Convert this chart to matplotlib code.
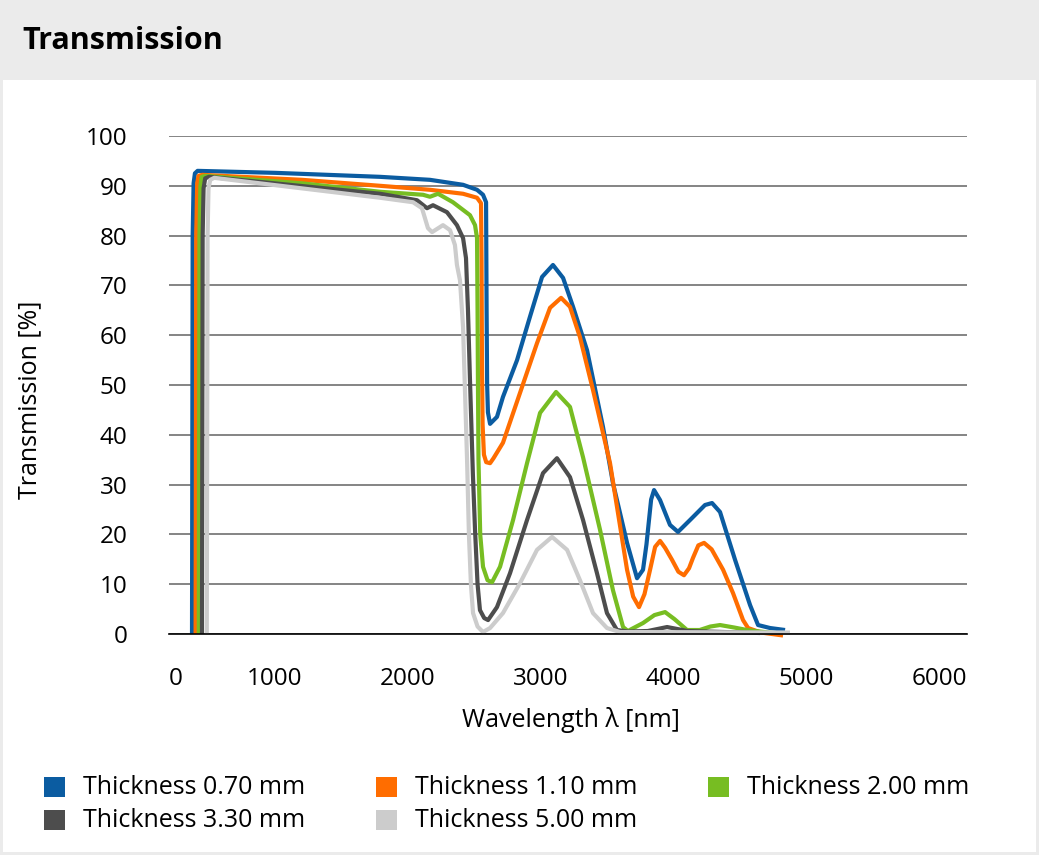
import matplotlib
matplotlib.use("Agg")
import matplotlib.pyplot as plt
from matplotlib.patches import Rectangle

plt.rcParams['font.family'] = ['Open Sans', 'DejaVu Sans']

# wavelength [nm] / transmission [%]
blue_x = [173, 178, 185, 195, 215, 800, 1587, 1962, 2211, 2316, 2361, 2384, 2388, 2392, 2398,
          2414, 2466, 2511, 2617, 2714, 2805, 2887, 2963, 3038, 3143, 3263, 3338, 3444, 3519,
          3564, 3590, 3625, 3647, 3692, 3767, 3827, 3918, 4030, 4083, 4143, 4256, 4369, 4429,
          4519, 4632]
blue_y = [0, 80, 90.5, 92.5, 93.0, 92.6, 91.8, 91.2, 90.2, 89.2, 88.2, 86.7, 65, 50, 44.5,
          42.2, 43.6, 47.6, 55.0, 63.7, 71.7, 74.1, 71.5, 65.7, 57.0, 41.6, 30.3, 18.3, 11.2,
          12.9, 18, 27, 28.9, 26.9, 21.9, 20.5, 22.9, 25.9, 26.3, 24.5, 14.9, 5.8, 1.8,
          1.2, 0.8]

orange_x = [200, 205, 212, 222, 250, 1000, 1587, 1962, 2211, 2316, 2346, 2350, 2353, 2358, 2368,
            2385, 2414, 2440, 2511, 2639, 2767, 2865, 2948, 3015, 3090, 3188, 3316, 3444, 3490,
            3534, 3575, 3617, 3655, 3692, 3730, 3782, 3830, 3872, 3910, 3940, 3980, 4023, 4080,
            4166, 4241, 4316, 4354, 4450, 4617]
orange_y = [0, 80, 90.5, 92.0, 92.2, 91.2, 90.0, 89.2, 88.4, 87.6, 86.5, 75, 55, 42, 36,
            34.5, 34.3, 35.3, 38.4, 48.4, 58.4, 65.5, 67.5, 65.7, 59.6, 49.0, 34.3, 12.9, 7.5,
            5.4, 8, 12.9, 17.5, 18.7, 17.3, 14.9, 12.5, 11.8, 13.2, 15.3, 17.8, 18.3, 17.0,
            12.9, 8.2, 2.8, 1.2, 0.3, -0.3]

green_x = [224, 229, 236, 246, 270, 1000, 1587, 1910, 1962, 2023, 2135, 2263, 2301, 2316, 2320,
           2323, 2327, 2340, 2361, 2395, 2429, 2489, 2587, 2692, 2790, 2910, 3015, 3113, 3241,
           3338, 3414, 3450, 3564, 3650, 3730, 3800, 3895, 3990, 4070, 4143, 4250, 4346, 4541]
green_y = [0, 80, 90, 91.8, 92.0, 90.5, 88.8, 88.2, 87.8, 88.4, 86.7, 84.1, 82.1, 79.5, 65,
           50, 35, 20, 13.5, 10.8, 10.4, 13.5, 22.9, 34.3, 44.4, 48.6, 45.6, 35.5, 20.9,
           8.8, 1.4, 0.6, 2.2, 3.8, 4.4, 3.0, 0.8, 0.8, 1.5, 1.8, 1.3, 0.8, 0.2]

dark_x = [248, 253, 260, 272, 300, 1587, 1865, 1940, 1985, 2090, 2165, 2211, 2233, 2248, 2263,
          2285, 2301, 2320, 2338, 2370, 2399, 2466, 2564, 2692, 2812, 2917, 3015, 3113, 3218,
          3293, 3368, 3450, 3600, 3745, 3900, 4444]
dark_y = [0, 80, 89.5, 91.5, 91.8, 88.4, 87.1, 85.5, 86.1, 84.7, 82.1, 79.5, 75.5, 65, 51,
          32, 20.9, 10, 4.8, 3.2, 2.8, 5.4, 12.2, 22.9, 32.3, 35.3, 31.5, 22.9, 12.2,
          4.2, 0.8, 0.5, 0.6, 1.4, 0.6, 0.2]

light_x = [284, 290, 297, 310, 340, 1587, 1835, 1902, 1947, 1978, 2060, 2113, 2150, 2165, 2188,
           2211, 2241, 2255, 2270, 2286, 2320, 2361, 2414, 2511, 2639, 2767, 2880, 2993, 3090,
           3188, 3293, 3391, 4669]
light_y = [0, 80, 89.5, 91.2, 91.6, 87.6, 86.7, 85.5, 81.5, 80.7, 82.1, 81.1, 78.1, 74.1, 71,
           61.6, 35, 20, 10, 4.2, 1.5, 0.4, 1.2, 4.2, 10.2, 16.9, 19.5, 16.9, 10.8,
           4.2, 1.2, 0.4, 0.3]

series = [
    ("Thickness 0.70 mm", blue_x, blue_y, "#0b5ca1"),
    ("Thickness 1.10 mm", orange_x, orange_y, "#ff6d00"),
    ("Thickness 2.00 mm", green_x, green_y, "#77bd22"),
    ("Thickness 3.30 mm", dark_x, dark_y, "#4d4d4d"),
    ("Thickness 5.00 mm", light_x, light_y, "#cccccc"),
]
x_ticks = [0, 1000, 2000, 3000, 4000, 5000, 6000]
y_ticks = [0, 10, 20, 30, 40, 50, 60, 70, 80, 90, 100]

W, H = 1039, 855
fig = plt.figure(figsize=(W / 100, H / 100), dpi=100)
fig.patch.set_facecolor("#ebebeb")
# white panel under the header
fig.add_artist(Rectangle((3 / W, 3 / H), 1033 / W, 772 / H, transform=fig.transFigure,
                         facecolor="white", edgecolor="none", zorder=-10))
fig.text(22 / W, 1 - 41 / H, "Transmission", fontsize=22, fontweight="bold", va="center", ha="left")

ax = fig.add_axes([169 / W, 1 - 634 / H, (967 - 169) / W, (634 - 136) / H])
ax.set_facecolor("none")
for name, xs, ys, col in series:
    ax.plot(xs, ys, color=col, lw=3, solid_joinstyle="round", solid_capstyle="butt",
            label=name, clip_on=False)

ax.set_xlim(0, 6000)
ax.set_ylim(0, 100)
ax.set_yticks(y_ticks)
ax.set_xticks(x_ticks)
ax.set_xticklabels([str(v) for v in x_ticks])
ax.yaxis.grid(True, color="#6f6f6f", lw=1.2)
ax.set_axisbelow(True)
for s in ["left", "right", "top"]:
    ax.spines[s].set_visible(False)
ax.spines["bottom"].set_color("black")
ax.spines["bottom"].set_linewidth(1.2)
ax.tick_params(length=0, labelsize=17.5)
ax.tick_params(axis="y", pad=30)
ax.tick_params(axis="x", pad=24)
for i, lab in enumerate(ax.get_xticklabels()):
    lab.set_ha("left" if i == 0 else "right")

fig.text(30 / W, 1 - 400 / H, "Transmission [%]", rotation=90, fontsize=18, ha="center", va="center")
fig.text(571 / W, 1 - 720 / H, "Wavelength λ [nm]", fontsize=18, ha="center", va="center")

# legend, row-wise
leg_pos = [(44, 787), (376, 787), (708, 787), (44, 820), (376, 820)]
for (name, xs, ys, col), (lx, ly) in zip(series, leg_pos):
    fig.add_artist(Rectangle((lx / W, 1 - (ly + 10) / H), 21 / W, 20 / H,
                             transform=fig.transFigure, facecolor=col, edgecolor="none"))
    fig.text((lx + 39) / W, 1 - ly / H, name, fontsize=18, ha="left", va="center")

fig.savefig("out.png", dpi=100, facecolor=fig.get_facecolor())
